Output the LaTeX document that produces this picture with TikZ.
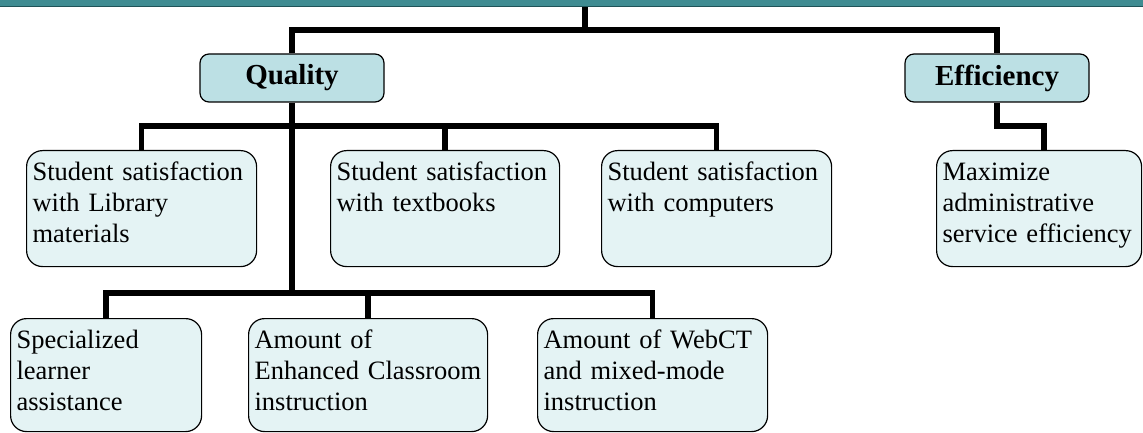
\documentclass[tikz,border=0pt]{standalone}
\usepackage{fontspec}
\setmainfont{Liberation Serif}
\definecolor{barteal}{HTML}{3F8C92}
\definecolor{bardark}{HTML}{1F5358}
\definecolor{headfill}{HTML}{BCE0E4}
\definecolor{leaffill}{HTML}{E4F3F4}
\tikzset{
  head/.style={draw,line width=1.2pt,rounded corners=9pt,fill=headfill,minimum width=184pt,minimum height=48pt,font=\bfseries\fontsize{29}{34}\selectfont},
  leaf/.style={draw,line width=1.2pt,rounded corners=16pt,fill=leaffill,anchor=north west,align=left,inner xsep=6pt,inner ysep=4pt,text height=26pt,text depth=82pt,font=\fontsize{26.5}{31}\selectfont},
  link/.style={line width=5.5pt}
}
\begin{document}
\begin{tikzpicture}[x=1pt,y=-1pt]
\useasboundingbox (0,0) rectangle (1143,433);
\node[fill=barteal,draw=bardark,line width=1.5pt,minimum width=1180pt,minimum height=30pt,anchor=south,inner sep=0pt](root)at(571.5,7.5){};
\node[head](quality)at(292,78){Quality};
\node[head](efficiency)at(997,78){Efficiency};
\node[leaf,text width=218pt](library)at(26,150){Student satisfaction\\with Library\\materials};
\node[leaf,text width=217pt](textbooks)at(330,150){Student satisfaction\\with textbooks};
\node[leaf,text width=218pt](computers)at(601,150){Student satisfaction\\with computers};
\node[leaf,text width=193pt](maximize)at(936,150){Maximize\\administrative\\service efficiency};
\node[leaf,text width=179pt,text depth=79pt](learner)at(10,318){Specialized\\learner\\assistance};
\node[leaf,text width=227pt,text depth=79pt](classroom)at(248,318){Amount of\\Enhanced Classroom\\instruction};
\node[leaf,text width=218pt,text depth=79pt](webct)at(537,318){Amount of WebCT\\and mixed-mode\\instruction};
\coordinate(J0)at(585,30);
\coordinate(J1)at(292,126);
\coordinate(J2)at(292,293);
\draw[link](J0|-root.south)--(J0);
\draw[link](quality.north)|-(J0)-|(efficiency.north);
\draw[link](quality.south)--(J2);
\draw[link](library.north)|-(J1)-|(computers.north);
\draw[link](textbooks.north)--(textbooks.north|-J1);
\draw[link](learner.north)|-(J2)-|(webct.north);
\draw[link](classroom.north)--(classroom.north|-J2);
\draw[link](efficiency.south)|-([xshift=5pt]maximize.north|-J1)--([xshift=5pt]maximize.north);
\end{tikzpicture}
\end{document}
